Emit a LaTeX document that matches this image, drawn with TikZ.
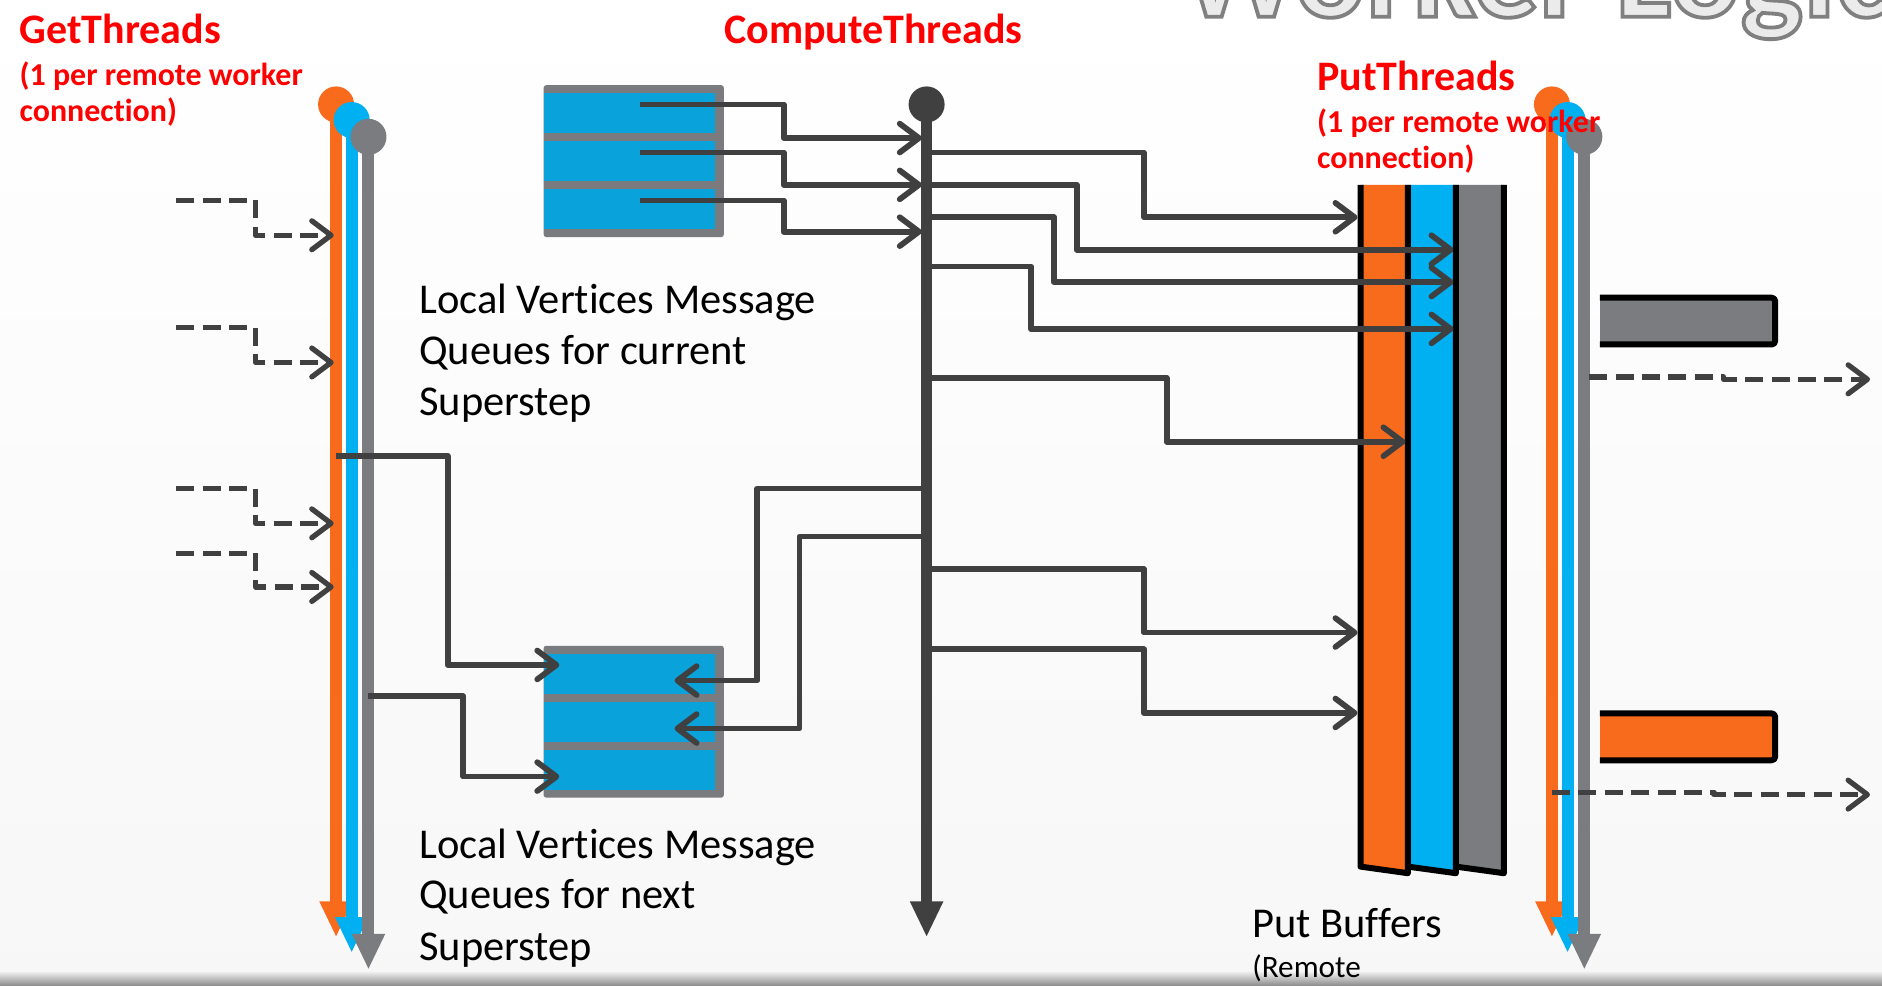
\documentclass[tikz,border=0pt]{standalone}
\usepackage{fontspec}
\setmainfont{Carlito}[Ligatures=NoCommon]
\usetikzlibrary{arrows.meta}

\definecolor{thrOrange}{HTML}{F96B1C}
\definecolor{thrBlue}{HTML}{00B0F0}
\definecolor{thrGray}{HTML}{7B7C80}
\definecolor{queueBlue}{HTML}{0AA2DA}
\definecolor{queueFrame}{HTML}{7A7B7F}
\definecolor{wireGray}{HTML}{404040}
\definecolor{headRed}{HTML}{FF0000}
\definecolor{titleFill}{HTML}{EBEBEB}

\tikzset{
  wirebarb/.tip={Straight Barb[length=8pt,width=12pt,line cap=round,line join=round]},
  wire/.style={draw=wireGray,line width=2.4pt,line join=round,-wirebarb},
  dashwire/.style={wire,line width=2.2pt,dash pattern=on 7.5pt off 3.5pt},
  redhead/.style={anchor=base west,inner sep=0pt,text=headRed,font=\fontsize{17.5}{21}\selectfont\bfseries},
  redsub/.style={anchor=base west,inner sep=0pt,text=headRed,font=\fontsize{13.3}{15.5}\selectfont\bfseries},
  caption/.style={anchor=base west,inner sep=0pt,text=black,font=\fontsize{17.7}{21}\selectfont},
  smallcaption/.style={anchor=base west,inner sep=0pt,text=black,font=\fontsize{13}{15}\selectfont},
  titletext/.style={anchor=base west,inner sep=0pt,font=\fontsize{55}{60}\selectfont\bfseries},
  slabedge/.style={draw=black,line width=2.5pt,line join=round},
  threadline/.style={line width=5pt},
}

% outlined lettering: fill with the text colour, stroke in mid grey
\newcommand\outlined[1]{%
  \special{pdf:literal direct 2 Tr 1.6 w 0.5 G}#1\special{pdf:literal direct 0 Tr}}

% a thread: start dot, vertical life line and a triangular head
\newcommand\drawthread[4]{%
  \fill[#1] (#2,#3) circle[radius=7.5pt];
  \draw[#1,threadline] (#2,#3) -- (#2,#4+2);
  \fill[#1] (#2-14,#4) -- (#2+14,#4) -- (#2,#4+29) -- cycle;
}

% a three-slot message queue
\newcommand\drawqueue[2]{%
  \fill[queueFrame,rounded corners=1pt] (#1,#2) rectangle (#1+150,#2+126.5);
  \foreach \r in {0,1,2}
    \fill[queueBlue] (#1,#2+6.5+\r*40) rectangle (#1+143,#2+40+\r*40);
}

\begin{document}
\begin{tikzpicture}[x=0.5pt,y=-0.5pt]
\useasboundingbox (0,0) rectangle (1568,821);

% backdrop
\shade[top color=white,bottom color=black!3] (0,0) rectangle (1568,809);
\shade[top color=black!4,bottom color=black!45] (0,809) rectangle (1568,821);

% slide title, cut by the top edge
\begin{scope}
  \clip (0,0) rectangle (1568,821);
  \node[titletext,text=titleFill] (title) at (983,14) {\outlined{Worker Logic}};
\end{scope}

% get threads
\drawthread{thrOrange}{280}{87}{751}
\drawthread{thrBlue}{293}{100}{764}
\drawthread{thrGray}{307}{114}{778}

% compute thread
\fill[wireGray] (772,87) circle[radius=7.5pt];
\draw[wireGray,line width=4.5pt] (772,87) -- (772,753);
\fill[wireGray] (758,751) -- (786,751) -- (772,780) -- cycle;

% message queues
\drawqueue{453}{71}
\drawqueue{453}{538}

% put buffers
\fill[thrOrange] (1133.5,154) -- (1133.5,722) -- (1173,727.5) -- (1173,154) -- cycle;
\fill[thrBlue]   (1173,154) -- (1173,722) -- (1213,727.5) -- (1213,154) -- cycle;
\fill[thrGray]   (1213,154) -- (1213,722) -- (1253,727.5) -- (1253,154) -- cycle;
\draw[slabedge] (1133.5,154) -- (1133.5,722) -- (1173,727.5) -- (1173,154);
\draw[slabedge] (1173,722) -- (1213,727.5) -- (1213,154);
\draw[slabedge] (1213,722) -- (1253,727.5) -- (1253,154);

% put threads
\drawthread{thrOrange}{1293}{87}{751}
\drawthread{thrBlue}{1306}{100}{764}
\drawthread{thrGray}{1320}{114}{778}

% outgoing remote messages
\fill[thrGray] (1333,248) rectangle (1479,287);
\draw[slabedge,rounded corners=1.5pt] (1333,248) -- (1479,248) -- (1479,287) -- (1333,287);
\fill[thrOrange] (1333,594.3) rectangle (1479,633.4);
\draw[slabedge,rounded corners=1.5pt] (1333,594.3) -- (1479,594.3) -- (1479,633.4) -- (1333,633.4);

% connector end points
\coordinate (q1a) at (533,87);   \coordinate (q1b) at (768,115);
\coordinate (q2a) at (533,127);  \coordinate (q2b) at (768,154);
\coordinate (q3a) at (533,167);  \coordinate (q3b) at (768,193);
\coordinate (c1a) at (772,127);  \coordinate (c1b) at (1131,181);
\coordinate (c2a) at (772,154);  \coordinate (c2b) at (1211,208);
\coordinate (c3a) at (772,181);  \coordinate (c3b) at (1211,235);
\coordinate (c4a) at (772,222);  \coordinate (c4b) at (1211,274);
\coordinate (c5a) at (772,315);  \coordinate (c5b) at (1171,368);
\coordinate (c6a) at (772,474);  \coordinate (c6b) at (1131,527);
\coordinate (c7a) at (772,541);  \coordinate (c7b) at (1131,594);
\coordinate (l1a) at (772,407);  \coordinate (l1b) at (562,567);
\coordinate (l2a) at (772,447);  \coordinate (l2b) at (562,607);
\coordinate (g1a) at (280,380);  \coordinate (g1b) at (466,554);
\coordinate (g2a) at (307,580);  \coordinate (g2b) at (466,647);
\coordinate (d1a) at (147,167);  \coordinate (d1b) at (278,196);
\coordinate (d2a) at (147,273);  \coordinate (d2b) at (278,302);
\coordinate (d3a) at (147,407);  \coordinate (d3b) at (278,436);
\coordinate (d4a) at (147,461);  \coordinate (d4b) at (278,489);
\coordinate (r1a) at (1324,314); \coordinate (r1b) at (1558,316);
\coordinate (r2a) at (1293,660); \coordinate (r2b) at (1558,662);

% current queues into the compute thread
\draw[wire] (q1a) -- ++(120,0) |- (q1b);
\draw[wire] (q2a) -- ++(120,0) |- (q2b);
\draw[wire] (q3a) -- ++(120,0) |- (q3b);

% compute thread into the put buffers
\draw[wire] (c1a) -- ++(181,0) |- (c1b);
\draw[wire] (c2a) -- ++(125,0) |- (c2b);
\draw[wire] (c3a) -- ++(106,0) |- (c3b);
\draw[wire] (c4a) -- ++(87,0)  |- (c4b);
\draw[wire] (c5a) -- ++(200,0) |- (c5b);
\draw[wire] (c6a) -- ++(181,0) |- (c6b);
\draw[wire] (c7a) -- ++(181,0) |- (c7b);

% compute thread into the next queues
\draw[wire] (l1a) -- ++(-141,0) |- (l1b);
\draw[wire] (l2a) -- ++(-106,0) |- (l2b);

% get threads into the next queues
\draw[wire] (g1a) -- ++(93,0) |- (g1b);
\draw[wire] (g2a) -- ++(79,0) |- (g2b);

% incoming remote messages
\draw[dashwire] (d1a) -- ++(66,0) |- (d1b);
\draw[dashwire] (d2a) -- ++(66,0) |- (d2b);
\draw[dashwire] (d3a) -- ++(66,0) |- (d3b);
\draw[dashwire] (d4a) -- ++(66,0) |- (d4b);

% outgoing remote sends
\draw[dashwire] (r1a) -- ++(112,0) |- (r1b);
\draw[dashwire] (r2a) -- ++(135,0) |- (r2b);

% headings
\node[redhead] (get-title) at (16,36) {GetThreads};
\node[redsub] (get-sub1) at (16,71) {(1 per remote worker};
\node[redsub] (get-sub2) at (16,101) {connection)};
\node[redhead] (compute-title) at (603,36) {ComputeThreads};
\node[redhead] (put-title) at (1097,75) {PutThreads};
\node[redsub] (put-sub1) at (1097,110) {(1 per remote worker};
\node[redsub] (put-sub2) at (1097,140) {connection)};

% captions
\node[caption] (cur-1) at (349,261) {Local Vertices Message};
\node[caption] (cur-2) at (349,303.5) {Queues for current};
\node[caption] (cur-3) at (349,346) {Superstep};
\node[caption] (next-1) at (349,715) {Local Vertices Message};
\node[caption] (next-2) at (349,757) {Queues for next};
\node[caption] (next-3) at (349,800) {Superstep};
\node[caption] (buf-1) at (1043,781) {Put Buffers};
\node[smallcaption] (buf-2) at (1043,814) {(Remote};
\end{tikzpicture}
\end{document}
